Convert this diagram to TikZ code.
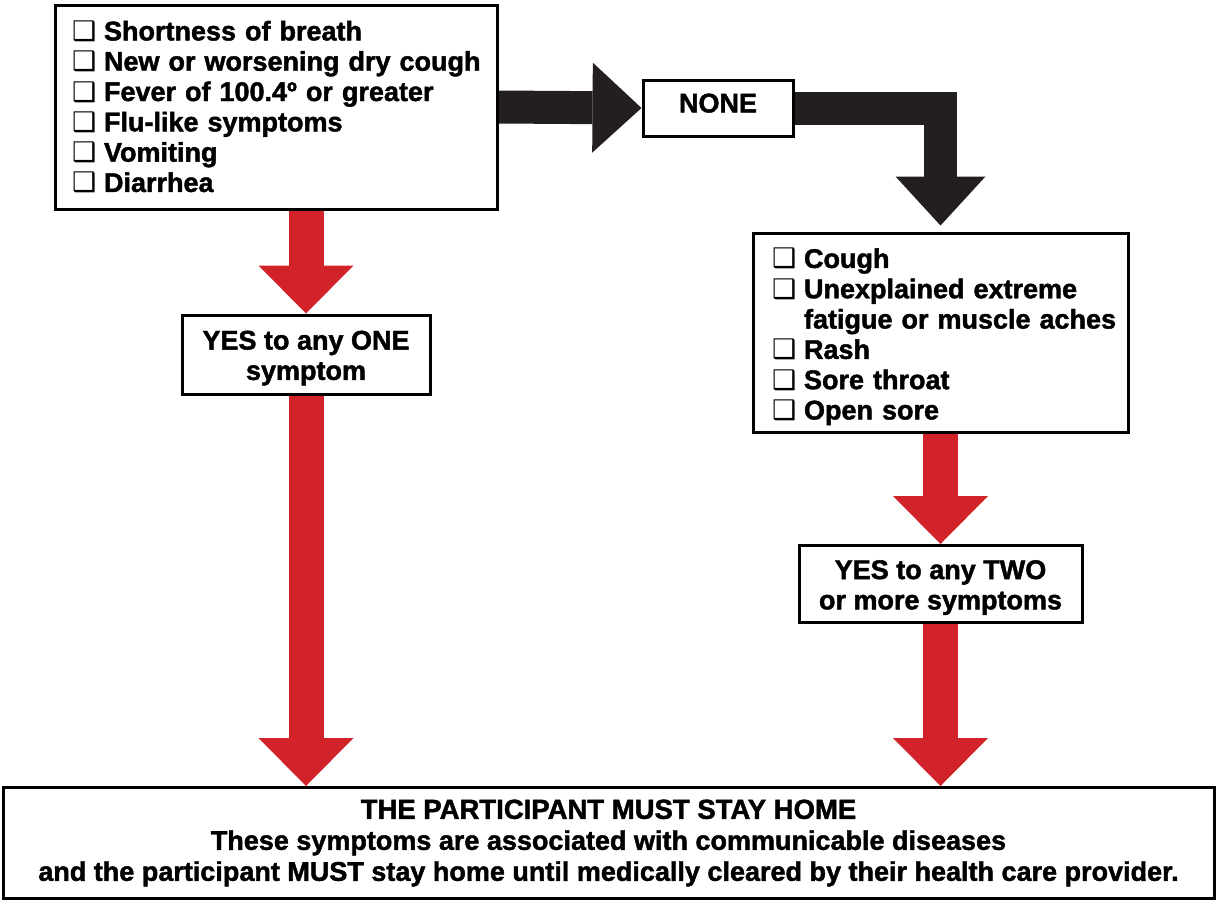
\documentclass[tikz,border=0pt]{standalone}
\usepackage{fontspec}
\setmainfont{Liberation Sans}[BoldFeatures={FakeBold=1.6}]
\newfontfamily\dvfont{DejaVu Sans}
\usetikzlibrary{arrows.meta,backgrounds}
\definecolor{arrred}{HTML}{D2232A}
\definecolor{arrblack}{HTML}{231F20}
\newcommand\cbx[1][17pt]{\hspace*{#1}\makebox[32pt][l]{\dvfont\fontsize{27}{27}\selectfont ❑}}
\newcommand\cbskip[1][17pt]{\hspace*{#1}\hspace*{32pt}}
\newcommand\bigfont{\fontsize{27}{30.3}\selectfont\bfseries}
\newcommand\topstrut[1]{\rule{0pt}{#1}}
\begin{document}
\begin{tikzpicture}[x=1pt,y=-1pt,
  box/.style={draw=black, line width=3pt, fill=white, inner sep=0pt},
  listbox/.style={box, align=left, font=\bigfont, inner xsep=0pt},
  redarrow/.style={draw=arrred, line width=35pt,
    -{Triangle[length=48pt,width=95pt,line width=0pt]}},
  blackarrow/.style={draw=arrblack, line width=33pt, line join=miter,
    -{Triangle[length=49pt,width=90pt,line width=0pt]}}]
\useasboundingbox (0,0) rectangle (1217,902);

\node[listbox, text width=442pt, minimum height=204pt] (sym1) at (276,107)
  {\cbx Shortness of breath\\
   \cbx New or worsening dry cough\\
   \cbx Fever of 100.4º or greater\\
   \cbx Flu-like symptoms\\
   \cbx Vomiting\\
   \cbx Diarrhea};

\node[box, minimum width=150pt, minimum height=56pt, text depth=10pt, font=\bigfont] (none) at (718,108) {NONE};

\node[listbox, text width=375pt, minimum height=199pt] (sym2) at (940.5,332.5)
  {\topstrut{28pt}\cbx[19pt]Cough\\
   \cbx[19pt]Unexplained extreme\\
   \cbskip[19pt]fatigue or muscle aches\\
   \cbx[19pt]Rash\\
   \cbx[19pt]Sore throat\\
   \cbx[19pt]Open sore};

\node[box, minimum width=248pt, minimum height=79pt, align=center, font=\bigfont] (yes1) at (306,354.5)
  {\topstrut{26pt}YES to any ONE\\symptom};

\node[box, minimum width=283pt, minimum height=77pt, align=center, font=\bigfont] (yes2) at (940.5,584)
  {\topstrut{26pt}YES to any TWO\\or more symptoms};

\node[box, minimum width=1211pt, minimum height=111pt, align=center,
      font={\fontsize{27}{31}\selectfont\bfseries}] (home) at (608.5,843)
  {{\fontsize{27.5}{31}\selectfont THE PARTICIPANT MUST STAY HOME}\\
   These symptoms are associated with communicable diseases\\
   and the participant MUST stay home until medically cleared by their health care provider.};

\begin{scope}[on background layer]
  \draw[blackarrow] (sym1.east) -- (none.west);
  \draw[blackarrow, shorten >=6pt] (none.east) -| (sym2.north);
  \draw[redarrow] (sym1.south -| yes1.north) -- (yes1.north);
  \draw[redarrow] (yes1.south) -- (yes1.south |- home.north);
  \draw[redarrow] (sym2.south) -- (yes2.north);
  \draw[redarrow] (yes2.south) -- (yes2.south |- home.north);
\end{scope}
\end{tikzpicture}
\end{document}
